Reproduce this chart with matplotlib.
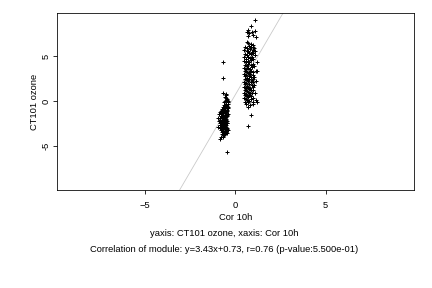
import matplotlib
matplotlib.use('Agg')
import matplotlib.pyplot as plt
import numpy as np

plt.rcParams['font.family'] = ['Liberation Sans', 'DejaVu Sans']
plt.rcParams['font.size'] = 9.4

# regression line of module
slope = 3.43
intercept = 0.73

# points, cluster at negative x
neg_x = [-0.67, -0.67, -0.48, -0.68, -0.55, -0.50, -0.60,
         -0.52, -0.45,
         -0.58, -0.48, -0.42,
         -0.62, -0.50, -0.44,
         -0.66, -0.55, -0.47, -0.41,
         -0.70, -0.60, -0.52, -0.44,
         -0.74, -0.65, -0.57, -0.48, -0.42,
         -0.80, -0.70, -0.60, -0.53, -0.45,
         -0.85, -0.75, -0.66, -0.58, -0.50, -0.43,
         -0.90, -0.78, -0.68, -0.60, -0.52, -0.46,
         -0.82, -0.72, -0.63, -0.55, -0.48,
         -0.95, -0.85, -0.74, -0.65, -0.57, -0.50,
         -0.88, -0.77, -0.68, -0.60, -0.52, -0.45,
         -0.92, -0.80, -0.70, -0.62, -0.54, -0.47,
         -0.84, -0.73, -0.64, -0.56, -0.49,
         -0.88, -0.76, -0.66, -0.58, -0.50,
         -0.98, -0.80, -0.70, -0.60, -0.52, -0.45,
         -0.84, -0.73, -0.63, -0.55, -0.47,
         -0.78, -0.68, -0.58, -0.50, -0.43,
         -0.72, -0.62, -0.54, -0.46,
         -0.75, -0.65, -0.56,
         -0.78, -0.68,
         -0.85]
neg_y = [4.33, 2.56, -5.70, 0.95, 0.78, 0.62, 0.50,
         0.35, 0.22,
         0.05, 0.14, -0.02,
         -0.15, -0.28, -0.10,
         -0.45, -0.35, -0.52, -0.30,
         -0.62, -0.70, -0.55, -0.78,
         -0.85, -0.92, -0.76, -0.98, -0.66,
         -1.05, -1.12, -0.96, -1.18, -1.08,
         -1.22, -1.30, -1.16, -1.35, -1.25, -1.40,
         -1.48, -1.42, -1.55, -1.38, -1.60, -1.52,
         -1.66, -1.72, -1.62, -1.78, -1.70,
         -1.85, -1.92, -1.80, -1.96, -1.88, -2.02,
         -2.05, -2.12, -2.00, -2.18, -2.08, -2.22,
         -2.25, -2.32, -2.20, -2.38, -2.28, -2.42,
         -2.45, -2.52, -2.40, -2.58, -2.48,
         -2.65, -2.72, -2.60, -2.78, -2.68,
         -2.85, -2.92, -2.80, -2.96, -2.88, -3.02,
         -3.05, -3.12, -3.00, -3.18, -3.08,
         -3.22, -3.30, -3.16, -3.35, -3.26,
         -3.45, -3.52, -3.40, -3.58,
         -3.68, -3.76, -3.64,
         -3.95, -4.05,
         -4.22]

# points, cluster at positive x
pos_x = [1.06, 0.85, 0.72, 1.11, 0.63, 0.91, 0.78, 1.00, 1.12, 0.72, 0.62, 0.72, 0.87, 1.00,
         0.55, 0.65, 0.75, 0.85, 0.95, 1.05,
         0.50, 0.62, 0.72, 0.82, 0.90, 1.00, 1.10,
         0.55, 0.65, 0.75, 0.88, 0.98, 1.08,
         0.50, 0.60, 0.70, 0.80, 0.90, 1.00,
         0.48, 0.58, 0.68, 0.78, 0.88, 1.20,
         0.52, 0.62, 0.72, 0.84, 0.95, 1.05,
         0.50, 0.60, 0.70, 0.80, 0.92, 1.15,
         0.55, 0.65, 0.75, 0.86, 1.00, 1.18,
         0.50, 0.60, 0.70, 0.82, 0.95,
         0.52, 0.64, 0.74, 0.85, 1.05,
         0.55, 0.65, 0.78, 0.90, 1.00,
         0.50, 0.60, 0.72, 0.84, 0.95, 1.12,
         0.55, 0.66, 0.78, 0.90, 1.02,
         0.50, 0.60, 0.70, 0.82, 0.95,
         0.55, 0.65, 0.75, 0.86, 1.00,
         0.50, 0.60, 0.70, 0.80, 0.92, 1.08,
         0.55, 0.65, 0.75, 0.88,
         0.50, 0.60, 0.72, 0.85, 1.00,
         0.65, 0.78, 1.15,
         0.55, 0.72, 0.95, 1.20,
         0.60, 0.82, 1.00,
         0.70,
         0.89, 0.67]
pos_y = [9.00, 8.30, 7.95, 7.80, 7.70, 7.65, 7.55, 7.40, 7.10, 7.25, 6.60, 6.45, 6.40, 6.25,
         6.05, 5.92, 6.10, 5.98, 6.02, 5.88,
         5.70, 5.55, 5.62, 5.75, 5.50, 5.66, 5.58,
         5.25, 5.12, 5.30, 5.18, 5.35, 5.08,
         4.85, 4.72, 4.90, 4.78, 4.95, 4.70,
         4.45, 4.32, 4.50, 4.38, 4.55, 4.37,
         4.05, 3.92, 4.12, 3.98, 4.15, 3.88,
         3.68, 3.55, 3.72, 3.60, 3.75, 3.40,
         3.35, 3.22, 3.28, 3.40, 3.18, 3.30,
         3.05, 2.92, 3.10, 2.98, 2.88,
         2.75, 2.62, 2.80, 2.68, 2.72,
         2.45, 2.32, 2.50, 2.38, 2.42,
         2.15, 2.02, 2.20, 2.08, 2.12, 2.18,
         1.85, 1.72, 1.90, 1.78, 1.82,
         1.55, 1.42, 1.60, 1.48, 1.52,
         1.25, 1.12, 1.30, 1.18, 1.22,
         0.95, 0.82, 1.00, 0.88, 0.92, 0.86,
         0.65, 0.52, 0.70, 0.58,
         0.35, 0.22, 0.40, 0.28, 0.32,
         0.12, 0.05, 0.15,
         -0.08, -0.15, -0.05, -0.12,
         -0.38, -0.45, -0.32,
         -0.62,
         -1.56, -2.78]

fig = plt.figure(figsize=(6, 4), dpi=72)
ax = fig.add_axes([0.132, 0.34, 0.826, 0.615])

ax.set_xlim(-9.9, 9.9)
ax.set_ylim(-9.9, 9.8)

xl = np.array([-9.9, 9.9])
ax.plot(xl, slope * xl + intercept, color='#c8c8c8', linewidth=0.8, zorder=1)

ax.scatter(neg_x, neg_y, marker='+', color='black', s=24, linewidths=1.0, zorder=2)
ax.scatter(pos_x, pos_y, marker='+', color='black', s=24, linewidths=1.0, zorder=2)

ax.set_xticks([-5, 0, 5])
ax.set_yticks([-5, 0, 5])
ax.set_yticklabels(['-5', '0', '5'], rotation=90, va='center')
ax.tick_params(direction='out', length=4, width=0.8)
ax.tick_params(axis='x', pad=7)
ax.tick_params(axis='y', pad=2)
for s in ax.spines.values():
    s.set_linewidth(0.8)

ax.set_xlabel('Cor 10h', labelpad=3)
ax.set_ylabel('CT101 ozone', labelpad=3)

fig.text(0.518, 0.19, 'yaxis: CT101 ozone, xaxis: Cor 10h', ha='center', va='center')
fig.text(0.518, 0.132, 'Correlation of module: y=3.43x+0.73, r=0.76 (p-value:5.500e-01)',
         ha='center', va='center')

fig.savefig('out.png', dpi=72)
